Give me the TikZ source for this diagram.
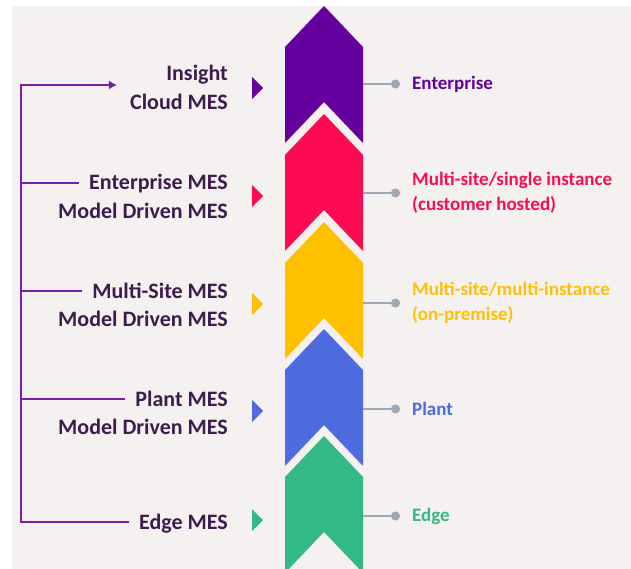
\documentclass[tikz,border=0pt]{standalone}
\usepackage{fontspec}
\setmainfont{Carlito}
\usetikzlibrary{
	arrows.meta,
	positioning,
	calc
}
\definecolor{bgGrey}{HTML}{F5F1F1}
\definecolor{cPurple}{HTML}{65009E}
\definecolor{cPink}{HTML}{FC0A52}
\definecolor{cYellow}{HTML}{FFC000}
\definecolor{cBlue}{HTML}{4E6BDF}
\definecolor{cGreen}{HTML}{33B987}
\definecolor{lblDark}{HTML}{3E1C4E}
\definecolor{busPurple}{HTML}{7A1CAC}
\definecolor{linkGrey}{HTML}{A0A8B4}
\tikzset{
	mes/.style={font=\fontsize{22}{27.5}\selectfont\bfseries, text=lblDark, anchor=base east, inner sep=0pt, text height=14pt, text depth=0pt},
	tier/.style={font=\fontsize{19}{24.5}\selectfont\bfseries, align=left, anchor=west, inner sep=0pt},
	bus/.style={busPurple, line width=2.5pt},
	link/.style={linkGrey, line width=1.5pt}
}

\begin{document}
\begin{tikzpicture}[x=1pt, y=-1pt]

		\useasboundingbox (0,0) rectangle (631,569);
		\clip (0,0) rectangle (631,569);
		\fill[white] (0,0) rectangle (631,569);
		\fill[bgGrey] (12,6) rectangle (631,569);

		\foreach \t/\c in {6/cPurple,114/cPink,222/cYellow,329/cBlue,436/cGreen} {
		\fill[\c] (324,\t) -- ++(39,41) -- ++(0,96) -- ++(-39,-41) -- ++(-39,41) -- ++(0,-96) -- cycle;
		}
		\coordinate (chevR) at (363,0);

		\foreach \y/\c in {88/cPurple,196/cPink,304/cYellow,411/cBlue,520/cGreen} {
		\fill[\c] (252,\y-11) -- (263,\y) -- (252,\y+11) -- cycle;
		}

		\node[mes] (ins) at (228,81) {Insight};
		\node[mes, below left=14pt and 0pt of ins.south east] (cloud) {Cloud MES};
		\node[mes] (ent) at (228,190) {Enterprise MES};
		\node[mes, below left=14pt and 0pt of ent.south east] (ent2) {Model Driven MES};
		\node[mes] (msite) at (228,298) {Multi-Site MES};
		\node[mes, below left=14pt and 0pt of msite.south east] (msite2) {Model Driven MES};
		\node[mes] (plant) at (228,406) {Plant MES};
		\node[mes, below left=14pt and 0pt of plant.south east] (plant2) {Model Driven MES};
		\node[mes] (edge) at (228,529) {Edge MES};

		\coordinate (busTop) at (21,85);
		\draw[bus, -{Latex[length=8pt, width=9pt]}, shorten <=10pt, shorten >=13pt] (edge.west) -| (busTop) -- (busTop -| cloud.west);
		\foreach \n in {ent,msite,plant} {
		\draw[bus, shorten >=10pt] (\n.west -| busTop) -- (\n.west);
		}

		\node[tier, text=cPurple] (tEnt) at (412,84) {Enterprise};
		\node[tier, text=cPink] (tSingle) at (412,193) {Multi-site/single instance\\(customer hosted)};
		\node[tier, text=cYellow] (tMulti) at (412,303) {Multi-site/multi-instance\\(on-premise)};
		\node[tier, text=cBlue] (tPlant) at (412,409) {Plant};
		\node[tier, text=cGreen] (tEdge) at (412,516) {Edge};

		\foreach \n in {tEnt,tSingle,tMulti,tPlant,tEdge} {
		\draw[link, -{Circle[length=9pt]}, shorten >=12pt] (\n.west -| chevR) -- (\n.west);
		}

	\end{tikzpicture}
\end{document}
